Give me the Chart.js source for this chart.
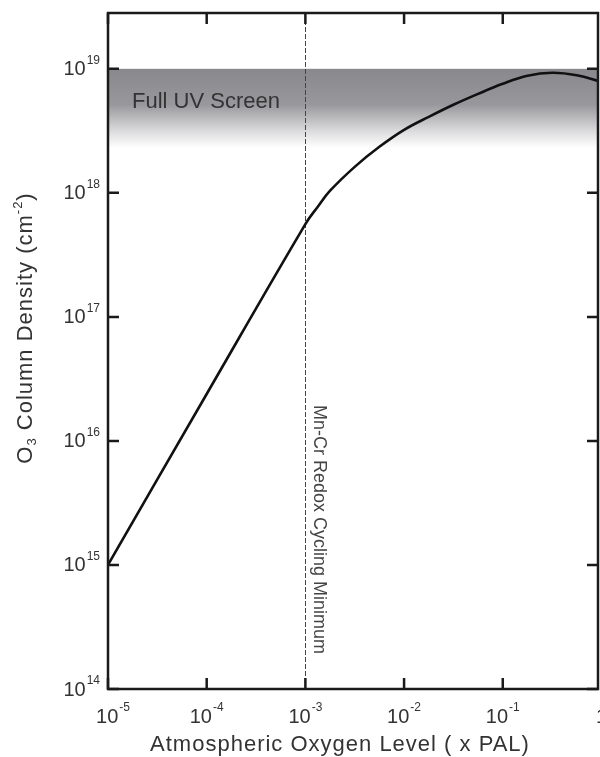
<!DOCTYPE html>
<html>
<head>
<meta charset="utf-8">
<script src="https://cdn.jsdelivr.net/npm/chart.js@4"></script>
<style>
  html, body { margin: 0; padding: 0; background: #fff; }
  #wrap { width: 600px; height: 757px; }
</style>
</head>
<body>
<div id="wrap"><canvas id="ozoneChart" width="600" height="757"></canvas></div>
<script>
// O3 column density vs atmospheric oxygen level
const oxygenLevel = [1e-5, 1e-4, 1e-3, 1.33e-3, 1.78e-3, 3.16e-3, 5.62e-3, 1e-2, 1.78e-2, 3.16e-2, 5.62e-2, 0.1, 0.178, 0.316, 0.562, 1];
const o3Density = [1e15, 2.39e16, 5.6e17, 7.7e17, 1.04e18, 1.62e18, 2.35e18, 3.22e18, 4.1e18, 5.13e18, 6.28e18, 7.57e18, 8.79e18, 9.29e18, 8.87e18, 7.86e18];

// axis ticks
const xTickValues = [1e-5, 1e-4, 1e-3, 1e-2, 1e-1, 1];
const xTickExps = ['-5', '-4', '-3', '-2', '-1', null];
const yTickValues = [1e14, 1e15, 1e16, 1e17, 1e18, 1e19];
const yTickExps = ['14', '15', '16', '17', '18', '19'];

// shaded "Full UV Screen" band and redox marker
const uvBand = [2.3e18, 1e19];
const redoxMinimum = 1e-3;

const FONT = '"Liberation Sans", Arial, Helvetica, sans-serif';
const TEXT = '#333';

// draw "10" with a raised exponent; anchor: 'center' or 'right'
function drawPower(ctx, x, y, exp, anchor) {
    ctx.save();
    ctx.textBaseline = 'middle';
    ctx.fillStyle = TEXT;
    const baseFont = '20px ' + FONT;
    const supFont = '12px ' + FONT;
    const base = exp === null ? '1' : '10';
    ctx.font = baseFont;
    const wb = ctx.measureText(base).width;
    ctx.font = supFont;
    const ws = exp === null ? 0 : ctx.measureText(exp).width + 1;
    let left = anchor === 'right' ? x - wb - ws : x - (wb + ws) / 2;
    ctx.textAlign = 'left';
    ctx.font = baseFont;
    ctx.fillText(base, left, y + 1);
    if (exp !== null) {
        ctx.font = supFont;
        ctx.fillText(exp, left + wb + 1, y - 8);
    }
    ctx.restore();
}

const framePlugin = {
    id: 'frame',
    beforeDatasetsDraw(chart) {
        const { ctx, chartArea: a, scales: { x, y } } = chart;
        // UV screen band
        const top = y.getPixelForValue(uvBand[1]);
        const bot = y.getPixelForValue(uvBand[0]);
        const g = ctx.createLinearGradient(0, top, 0, bot);
        g.addColorStop(0, 'rgb(136,136,141)');
        g.addColorStop(0.45, 'rgb(152,152,156)');
        g.addColorStop(0.8, 'rgb(222,222,224)');
        g.addColorStop(1, 'rgb(255,255,255)');
        ctx.save();
        ctx.fillStyle = g;
        ctx.fillRect(a.left, top, a.right - a.left, bot - top);
        ctx.fillStyle = '#333';
        ctx.font = '22px ' + FONT;
        ctx.textBaseline = 'middle';
        ctx.fillText('Full UV Screen', a.left + 24, top + 33);

        // dashed redox line
        const rx = Math.round(x.getPixelForValue(redoxMinimum)) + 0.5;
        ctx.strokeStyle = '#444';
        ctx.lineWidth = 1;
        ctx.setLineDash([5, 2]);
        ctx.beginPath();
        ctx.moveTo(rx, a.top);
        ctx.lineTo(rx, a.bottom);
        ctx.stroke();
        ctx.setLineDash([]);

        // rotated label
        ctx.translate(rx + 13, 405);
        ctx.rotate(Math.PI / 2);
        ctx.fillStyle = '#444';
        ctx.font = '18px ' + FONT;
        ctx.textAlign = 'left';
        ctx.textBaseline = 'middle';
        ctx.fillText('Mn-Cr Redox Cycling Minimum', 0, 0);
        ctx.restore();
    },
    afterDraw(chart) {
        const { ctx, chartArea: a, scales: { x, y } } = chart;
        ctx.save();
        ctx.strokeStyle = '#1a1a1a';
        ctx.lineWidth = 2.5;
        ctx.strokeRect(a.left, a.top, a.right - a.left, a.bottom - a.top);

        // inward ticks on all four sides
        const len = 11;
        ctx.beginPath();
        xTickValues.forEach(v => {
            const px = x.getPixelForValue(v);
            if (px > a.right + 1) return;
            ctx.moveTo(px, a.bottom); ctx.lineTo(px, a.bottom - len);
            ctx.moveTo(px, a.top); ctx.lineTo(px, a.top + len);
        });
        yTickValues.forEach(v => {
            const py = y.getPixelForValue(v);
            ctx.moveTo(a.left, py); ctx.lineTo(a.left + len, py);
            ctx.moveTo(a.right, py); ctx.lineTo(a.right - len, py);
        });
        ctx.stroke();
        ctx.restore();

        // tick labels
        xTickValues.forEach((v, i) => {
            let px = x.getPixelForValue(v);
            if (i === 0) px += 5;
            drawPower(ctx, px, a.bottom + 27, xTickExps[i], 'center');
        });
        yTickValues.forEach((v, i) => {
            drawPower(ctx, a.left - 8, y.getPixelForValue(v), yTickExps[i], 'right');
        });

        // axis titles
        ctx.save();
        ctx.fillStyle = TEXT;
        ctx.textBaseline = 'middle';
        ctx.textAlign = 'left';
        ctx.letterSpacing = '1px';
        ctx.font = '22px ' + FONT;
        const xt = 'Atmospheric Oxygen Level ( x PAL)';
        const xw = ctx.measureText(xt).width;
        ctx.fillText(xt, 340 - xw / 2, 745);

        // y title with subscript and superscript
        const parts = [
            { t: 'O', f: '22px ', dy: 0 },
            { t: '3', f: '13px ', dy: 6 },
            { t: ' Column Density (cm', f: '22px ', dy: 0 },
            { t: '-2', f: '13px ', dy: -8 },
            { t: ')', f: '22px ', dy: 0 }
        ];
        let total = 0;
        parts.forEach(p => { ctx.font = p.f + FONT; p.w = ctx.measureText(p.t).width; total += p.w; });
        ctx.translate(26, 328);
        ctx.rotate(-Math.PI / 2);
        let cx = -total / 2;
        parts.forEach(p => {
            ctx.font = p.f + FONT;
            ctx.fillText(p.t, cx, p.dy);
            cx += p.w;
        });
        ctx.restore();
    }
};

new Chart(document.getElementById('ozoneChart'), {
    type: 'line',
    data: {
        datasets: [{
            data: oxygenLevel.map((v, i) => ({ x: v, y: o3Density[i] })),
            borderColor: '#111',
            borderWidth: 2.6,
            pointRadius: 0,
            tension: 0.4,
            fill: false
        }]
    },
    options: {
        responsive: false,
        animation: false,
        layout: { padding: { left: 108, right: 2, top: 13, bottom: 68 } },
        plugins: { legend: { display: false }, tooltip: { enabled: false } },
        scales: {
            x: { type: 'logarithmic', display: false, min: 1e-5, max: Math.pow(10, -0.035) },
            y: { type: 'logarithmic', display: false, min: 1e14, max: Math.pow(10, 19.45) }
        }
    },
    plugins: [framePlugin]
});
</script>
</body>
</html>
